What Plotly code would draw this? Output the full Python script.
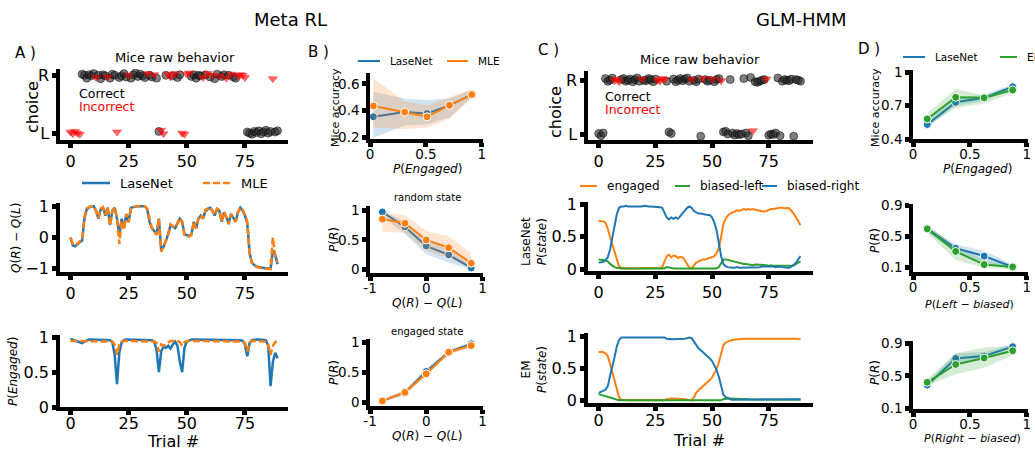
import plotly.graph_objects as go

W, H = 1035, 450
def fx(p): return p / W
def fy(p): return 1 - p / H

BLUE = "#1f77b4"; ORANGE = "#ff7f0e"; GREEN = "#2ca02c"
BLUE_F = "rgba(31,119,180,0.2)"; ORANGE_F = "rgba(255,127,14,0.2)"; GREEN_F = "rgba(44,160,44,0.2)"
FONT = "DejaVu Sans"

trials = list(range(90))

# ---------------- Panel A (Meta RL) ----------------
a_choice = [0,0,0,0,0, 1,1,1,1,1, 1,1,1,1,1, 1,1,1,1,1, 0,1,1,1,1, 1,1,1,1,1, 1,1,1,1,1,
            1,1,1,0,0, 0,1,1,1,1, 1,1,1,0,0, 1,1,1,1,1, 1,1,1,1,1, 1,1,1,1,1, 1,1,1,1,1,
            1,1,1,1,1, 1,0,0,0,0, 0,0,0,0,0, 0,0,1,0,0]
a_correct = [0,0,0,0,0, 1,1,1,1,1, 1,0,1,1,1, 1,0,1,1,1, 0,1,1,1,1, 0,1,1,1,1, 1,1,1,0,1,
             1,0,1,1,0, 0,1,0,0,1, 0,1,1,0,0, 0,0,1,1,1, 1,1,0,1,0, 1,0,1,1,0, 1,1,0,1,0,
             1,1,0,0,0, 0,1,1,1,1, 1,1,1,1,1, 1,1,0,1,1]
a_jitter = [0.02,-0.01,0.03,0.0,-0.02, 0.03,0.01,-0.04,0.02,0.0, 0.04,-0.03,0.01,-0.05,0.02,
            0.0,-0.02,-0.04,0.03,0.01, 0.02,-0.03,0.0,0.04,-0.02, 0.01,-0.04,0.02,0.05,-0.01,
            0.03,0.0,-0.03,0.04,0.01, -0.02,0.02,-0.04,0.03,0.05, -0.01,0.01,0.03,-0.02,0.0,
            0.04,-0.03,0.02,0.0,-0.02, 0.03,0.05,-0.01,0.02,-0.04, 0.01,0.0,-0.03,0.02,0.04,
            -0.02,0.01,-0.05,0.03,0.0, -0.01,0.02,-0.04,0.01,0.03, -0.02,-0.04,0.0,0.02,0.01,
            -0.03,0.02,0.0,-0.02,0.03, 0.01,0.04,-0.01,0.02,0.05, 0.0,0.03,-0.05,0.02,0.04]

a_q_lasenet = [0.0,-0.25,-0.28,-0.2,-0.15,-0.1,0.6,0.9,0.95,1.0,
               1.0,0.85,0.6,0.9,0.95,0.7,0.95,0.4,0.85,0.95,
               0.6,0.05,0.6,0.3,0.75,0.5,0.95,0.97,1.0,1.0,
               1.0,1.0,1.0,0.9,0.5,0.3,0.2,0.1,0.6,-0.4,
               -0.3,-0.1,0.1,0.4,0.35,0.3,0.45,0.6,0.5,0.1,
               0.08,0.05,0.1,0.5,0.3,0.6,0.7,0.6,0.85,0.9,
               0.95,0.85,0.7,0.9,0.85,0.5,0.8,0.65,0.45,0.75,
               0.6,0.5,0.8,0.95,0.85,0.7,0.45,-0.5,-0.8,-0.88,
               -0.92,-0.95,-0.96,-0.97,-0.98,-1.0,-1.0,-0.4,-0.55,-0.85]
a_q_mle = [0.0,-0.2,-0.25,-0.2,-0.12,-0.08,0.65,0.92,0.97,1.0,
           1.0,0.85,0.62,0.92,0.97,0.72,0.97,0.38,0.85,0.97,
           0.6,-0.2,0.55,0.25,0.75,0.48,0.95,0.98,1.0,1.0,
           1.0,1.0,1.0,0.92,0.55,0.3,0.2,0.08,0.6,-0.45,
           -0.32,-0.1,0.1,0.42,0.35,0.3,0.45,0.62,0.5,0.08,
           0.05,0.03,0.08,0.5,0.28,0.62,0.72,0.6,0.88,0.92,
           0.97,0.85,0.72,0.92,0.88,0.5,0.82,0.65,0.42,0.75,
           0.62,0.5,0.82,0.95,0.88,0.72,0.5,-0.5,-0.82,-0.9,
           -0.94,-0.96,-0.97,-0.98,-0.99,-1.0,-1.0,0.0,-0.6,-0.78]

a_eng_lasenet = [0.98,0.97,0.96,0.95,0.93,0.92,0.94,0.96,0.97,0.97,
                 0.97,0.97,0.97,0.97,0.97,0.97,0.97,0.96,0.93,0.75,
                 0.33,0.78,0.93,0.96,0.97,0.97,0.97,0.97,0.97,0.97,
                 0.97,0.97,0.97,0.97,0.97,0.96,0.94,0.82,0.5,0.8,
                 0.87,0.85,0.88,0.84,0.9,0.94,0.88,0.65,0.5,0.85,
                 0.94,0.96,0.97,0.97,0.97,0.97,0.97,0.97,0.97,0.97,
                 0.97,0.97,0.97,0.97,0.97,0.97,0.97,0.97,0.97,0.97,
                 0.97,0.97,0.97,0.96,0.95,0.9,0.73,0.92,0.96,0.97,
                 0.97,0.97,0.97,0.97,0.96,0.88,0.3,0.65,0.78,0.7]
a_eng_mle = [0.95,0.95,0.95,0.95,0.95,0.95,0.95,0.95,0.95,0.95,
             0.95,0.95,0.95,0.95,0.95,0.95,0.95,0.95,0.94,0.9,
             0.75,0.9,0.94,0.95,0.95,0.95,0.95,0.95,0.95,0.95,
             0.95,0.95,0.95,0.95,0.95,0.95,0.94,0.92,0.8,0.9,
             0.88,0.9,0.93,0.95,0.95,0.95,0.95,0.93,0.88,0.93,
             0.95,0.95,0.95,0.95,0.95,0.95,0.95,0.95,0.95,0.95,
             0.95,0.95,0.95,0.95,0.95,0.95,0.95,0.95,0.95,0.95,
             0.95,0.95,0.95,0.95,0.94,0.92,0.8,0.93,0.95,0.95,
             0.95,0.95,0.95,0.95,0.94,0.9,0.75,0.88,0.93,0.95]

# ---------------- Panel B ----------------
b_x_eng = [0.03, 0.31, 0.51, 0.71, 0.91]
b1_lasenet = [0.355, 0.39, 0.38, 0.44, 0.52]
b1_lasenet_lo = [0.2, 0.29, 0.3, 0.35, 0.5]
b1_lasenet_hi = [0.54, 0.49, 0.48, 0.49, 0.555]
b1_mle = [0.435, 0.39, 0.355, 0.44, 0.52]
b1_mle_lo = [0.275, 0.265, 0.275, 0.34, 0.49]
b1_mle_hi = [0.64, 0.47, 0.44, 0.5, 0.56]

b_x_q = [-0.78, -0.38, 0.0, 0.4, 0.8]
b2_lasenet = [0.97, 0.72, 0.4, 0.25, 0.03]
b2_lasenet_lo = [0.9, 0.6, 0.26, 0.12, 0.0]
b2_lasenet_hi = [1.0, 0.8, 0.5, 0.35, 0.08]
b2_mle = [0.85, 0.78, 0.5, 0.37, 0.11]
b2_mle_lo = [0.64, 0.62, 0.32, 0.2, 0.02]
b2_mle_hi = [0.95, 0.92, 0.65, 0.56, 0.28]

b3_lasenet = [0.03, 0.17, 0.52, 0.84, 0.98]
b3_lasenet_lo = [0.01, 0.13, 0.47, 0.8, 0.96]
b3_lasenet_hi = [0.05, 0.21, 0.57, 0.88, 1.0]
b3_mle = [0.03, 0.17, 0.48, 0.84, 0.95]
b3_mle_lo = [0.01, 0.13, 0.43, 0.8, 0.92]
b3_mle_hi = [0.05, 0.21, 0.53, 0.88, 0.98]

# ---------------- Panel C (GLM-HMM) ----------------
c_choice = [0,0,0,1,1, 1,1,1,1,1, 1,1,1,1,1, 1,1,1,1,1, 1,1,1,1,1, 1,1,1,1,1,
            1,0,0,1,1, 1,1,1,1,1, 1,1,1,1,1, 0,1,1,1,1, 1,1,1,1,1, 0,0,0,1,0,
            0,0,0,0,1, 0,0,1,0,1, 1,1,1,1,1, 0,0,0,0,1, 0,1,1,1,1, 1,0,1,1,1]
c_correct = [1,1,1,1,1, 1,1,0,0,0, 1,1,1,1,1, 1,1,1,1,0, 1,1,1,1,1, 1,0,0,0,0,
             1,1,1,1,1, 1,1,1,1,1, 1,0,1,1,1, 1,0,1,1,1, 0,1,1,1,0, 1,1,1,1,1,
             1,1,1,1,1, 1,1,1,0,1, 1,1,1,1,0, 1,1,1,1,1, 1,1,1,1,1, 1,1,1,1,1]
c_jitter = [0.01,-0.03,0.02,0.03,-0.02, 0.0,0.04,-0.01,0.02,-0.03, 0.01,0.03,-0.02,0.0,0.02,
            -0.03,0.01,0.04,-0.02,0.02, 0.0,-0.01,0.03,0.01,-0.03, 0.02,0.0,-0.02,0.03,0.01,
            -0.02,0.04,0.01,0.02,-0.03, 0.0,0.03,-0.01,0.02,0.04, -0.02,0.01,0.0,-0.03,0.02,
            -0.04,0.03,0.01,-0.02,0.0, 0.02,-0.03,0.01,0.03,-0.01, 0.04,0.05,0.0,0.01,0.02,
            -0.02,0.01,-0.01,0.0,0.03, 0.02,-0.03,0.05,0.06,-0.03, -0.04,-0.02,0.0,0.01,0.02,
            -0.02,0.0,-0.01,0.02,0.04, -0.03,-0.02,0.01,0.0,-0.01, 0.02,-0.04,0.01,0.0,-0.02]

c_lasenet_engaged = [0.75,0.75,0.74,0.72,0.63,0.5,0.38,0.26,0.12,0.04,
                     0.02,0.01,0.01,0.01,0.01,0.01,0.02,0.01,0.01,0.01,
                     0.01,0.01,0.02,0.01,0.01,0.01,0.01,0.02,0.03,0.12,
                     0.2,0.22,0.18,0.21,0.2,0.17,0.19,0.18,0.14,0.08,
                     0.02,0.01,0.06,0.1,0.12,0.14,0.15,0.15,0.16,0.17,
                     0.18,0.2,0.25,0.33,0.5,0.7,0.78,0.83,0.86,0.88,
                     0.9,0.91,0.9,0.92,0.93,0.92,0.93,0.92,0.93,0.92,
                     0.91,0.9,0.9,0.89,0.9,0.92,0.93,0.93,0.94,0.94,
                     0.95,0.95,0.94,0.95,0.94,0.9,0.86,0.8,0.74,0.68]
c_lasenet_left = [0.15,0.15,0.14,0.13,0.12,0.08,0.05,0.03,0.02,0.01,
                  0.01,0.01,0.01,0.01,0.01,0.01,0.01,0.01,0.01,0.01,
                  0.01,0.01,0.01,0.01,0.01,0.01,0.01,0.01,0.01,0.01,
                  0.03,0.02,0.01,0.01,0.01,0.01,0.01,0.01,0.01,0.01,
                  0.01,0.01,0.01,0.01,0.01,0.01,0.01,0.01,0.01,0.01,
                  0.01,0.01,0.01,0.03,0.08,0.15,0.15,0.14,0.13,0.12,
                  0.12,0.1,0.1,0.09,0.08,0.08,0.07,0.07,0.06,0.07,
                  0.07,0.06,0.06,0.06,0.06,0.05,0.06,0.05,0.05,0.05,
                  0.04,0.04,0.04,0.04,0.04,0.05,0.06,0.08,0.1,0.12]
c_lasenet_right = [0.1,0.1,0.11,0.14,0.18,0.3,0.5,0.68,0.85,0.95,
                   0.97,0.97,0.98,0.97,0.97,0.97,0.96,0.97,0.97,0.97,
                   0.98,0.97,0.97,0.97,0.97,0.97,0.97,0.96,0.95,0.88,
                   0.8,0.77,0.8,0.78,0.8,0.78,0.82,0.86,0.9,0.95,
                   0.97,0.95,0.9,0.88,0.86,0.86,0.85,0.85,0.84,0.84,
                   0.8,0.72,0.6,0.4,0.2,0.08,0.04,0.03,0.02,0.02,
                   0.02,0.03,0.02,0.02,0.02,0.03,0.02,0.02,0.02,0.02,
                   0.03,0.03,0.04,0.04,0.04,0.05,0.05,0.04,0.03,0.04,
                   0.04,0.03,0.02,0.02,0.02,0.04,0.06,0.1,0.15,0.2]

c_em_engaged = [0.76,0.76,0.76,0.74,0.7,0.58,0.45,0.3,0.15,0.05,
                0.01,0.005,0.005,0.005,0.005,0.005,0.005,0.005,0.005,0.005,
                0.005,0.005,0.005,0.005,0.005,0.005,0.005,0.005,0.005,0.005,
                0.02,0.03,0.03,0.03,0.03,0.03,0.03,0.03,0.02,0.01,
                0.0,0.0,0.05,0.12,0.16,0.19,0.22,0.26,0.29,0.32,
                0.36,0.42,0.5,0.6,0.75,0.87,0.91,0.93,0.94,0.95,
                0.96,0.96,0.96,0.97,0.97,0.97,0.97,0.97,0.97,0.98,
                0.98,0.98,0.98,0.98,0.98,0.98,0.98,0.98,0.98,0.98,
                0.98,0.98,0.98,0.98,0.98,0.98,0.98,0.97,0.97,0.96]
c_em_left = [0.1,0.09,0.08,0.07,0.06,0.04,0.03,0.02,0.01,0.005,
             0.005,0.005,0.005,0.005,0.005,0.005,0.005,0.005,0.005,0.005,
             0.005,0.005,0.005,0.005,0.005,0.005,0.005,0.005,0.005,0.005,
             0.005,0.005,0.005,0.005,0.005,0.005,0.005,0.005,0.005,0.005,
             0.005,0.005,0.005,0.005,0.005,0.005,0.005,0.005,0.005,0.005,
             0.005,0.005,0.005,0.005,0.005,0.02,0.03,0.03,0.03,0.03,
             0.03,0.025,0.02,0.02,0.02,0.02,0.02,0.015,0.015,0.015,
             0.015,0.015,0.015,0.01,0.01,0.01,0.01,0.01,0.01,0.01,
             0.01,0.01,0.01,0.01,0.01,0.01,0.01,0.01,0.01,0.01]
c_em_right = [0.12,0.13,0.15,0.17,0.22,0.38,0.52,0.68,0.85,0.95,
              0.99,0.99,0.99,0.99,0.99,0.99,0.99,0.99,0.99,0.99,
              0.99,0.99,0.99,0.99,0.99,0.99,0.99,0.99,0.99,0.99,
              0.97,0.96,0.96,0.96,0.96,0.96,0.96,0.96,0.97,0.98,
              0.99,0.98,0.93,0.86,0.82,0.79,0.76,0.72,0.69,0.66,
              0.62,0.56,0.48,0.37,0.22,0.09,0.05,0.03,0.02,0.01,
              0.01,0.01,0.01,0.01,0.01,0.01,0.01,0.01,0.01,0.01,
              0.01,0.01,0.01,0.01,0.01,0.01,0.01,0.01,0.01,0.01,
              0.01,0.01,0.01,0.01,0.01,0.01,0.01,0.015,0.02,0.02]

# ---------------- Panel D ----------------
d_x = [0.125, 0.375, 0.625, 0.875]
d1_lasenet = [0.53, 0.73, 0.77, 0.87]
d1_lasenet_lo = [0.5, 0.7, 0.74, 0.85]
d1_lasenet_hi = [0.57, 0.77, 0.8, 0.89]
d1_em = [0.58, 0.775, 0.77, 0.84]
d1_em_lo = [0.52, 0.68, 0.72, 0.81]
d1_em_hi = [0.63, 0.85, 0.79, 0.88]
d2_lasenet = [0.6, 0.35, 0.25, 0.11]
d2_lasenet_lo = [0.56, 0.3, 0.16, 0.08]
d2_lasenet_hi = [0.63, 0.4, 0.32, 0.14]
d2_em = [0.6, 0.31, 0.14, 0.11]
d2_em_lo = [0.55, 0.2, 0.1, 0.08]
d2_em_hi = [0.65, 0.38, 0.2, 0.13]
d3_lasenet = [0.385, 0.715, 0.745, 0.86]
d3_lasenet_lo = [0.36, 0.66, 0.7, 0.83]
d3_lasenet_hi = [0.42, 0.78, 0.79, 0.89]
d3_em = [0.42, 0.64, 0.72, 0.81]
d3_em_lo = [0.38, 0.52, 0.6, 0.75]
d3_em_hi = [0.46, 0.78, 0.85, 0.87]

trial_ticks = [0, 25, 50, 75]

# ---------------- axes layout (pixel boxes) ----------------
AX = {
    1: (60, 288, 69, 140, [-4.5, 93.5], [-0.12, 1.12], trial_ticks, None, [0, 1], ["L", "R"], 16),
    2: (60, 288, 203, 272, [-4.5, 93.5], [-1.1, 1.1], trial_ticks, None, [-1, 0, 1], ["\u22121", "0", "1"], 16),
    3: (60, 288, 335, 407, [-4.5, 93.5], [0, 1.035], trial_ticks, None, [0, 0.5, 1], ["0", "0.5", "1"], 16),
    4: (370, 483, 73, 139, [0, 1.01], [0.19, 0.68], [0, 0.5, 1], ["0", "0.5", "1"], [0.2, 0.4, 0.6], ["0.2", "0.4", "0.6"], 13.5),
    5: (370, 483, 206, 273, [-1, 1.01], [-0.055, 1.07], [-1, 0, 1], ["-1", "0", "1"], [0, 0.5, 1], ["0", "0.5", "1"], 13.5),
    6: (370, 483, 339, 406, [-1, 1.01], [-0.055, 1.06], [-1, 0, 1], ["-1", "0", "1"], [0, 0.5, 1], ["0", "0.5", "1"], 13.5),
    7: (588, 813, 71, 140, [-4.7, 94.5], [-0.11, 1.17], trial_ticks, None, [0, 1], ["L", "R"], 16),
    8: (588, 813, 202, 271, [-4.7, 94.5], [-0.03, 1.04], trial_ticks, None, [0, 0.5, 1], ["0", "0.5", "1"], 16),
    9: (588, 813, 333, 403, [-4.7, 94.5], [-0.04, 1.06], trial_ticks, None, [0, 0.5, 1], ["0", "0.5", "1"], 16),
    10: (913, 1028, 70, 139, [0, 1.01], [0.4, 1.02], [0, 0.5, 1], ["0", "0.5", "1"], [0.4, 0.7, 1], ["0.4", "0.7", "1"], 13.5),
    11: (913, 1028, 204, 272, [0, 1.01], [0.045, 0.92], [0, 0.5, 1], ["0", "0.5", "1"], [0.1, 0.5, 0.9], ["0.1", "0.5", "0.9"], 13.5),
    12: (913, 1028, 341, 409, [0, 1.01], [0.09, 0.93], [0, 0.5, 1], ["0", "0.5", "1"], [0.1, 0.5, 0.9], ["0.1", "0.5", "0.9"], 13.5),
}
STANDOFF = {4: -4, 5: -4, 6: -4, 10: -4, 11: -4, 12: -4, 3: -5, 9: -4}

layout_axes = {}
for i, (xl, xr, yt, yb, xrg, yrg, xtv, xtt, ytv, ytt, fs) in AX.items():
    xs = "" if i == 1 else str(i)
    common = dict(showgrid=False, zeroline=False, showline=True, linecolor="black", linewidth=3.5,
                  ticks="outside", ticklen=4, tickwidth=5, tickcolor="black", automargin=False,
                  tickfont=dict(family=FONT, size=fs, color="black"), fixedrange=True)
    layout_axes["xaxis" + xs] = dict(domain=[fx(xl), fx(xr)], range=xrg, anchor="y" + xs,
                                     tickvals=xtv, ticktext=xtt if xtt else [str(v) for v in xtv],
                                     ticklabelstandoff=STANDOFF.get(i, 0), **common)
    layout_axes["yaxis" + xs] = dict(domain=[fy(yb), fy(yt)], range=yrg, anchor="x" + xs,
                                     tickvals=ytv, ticktext=ytt, **common)

def ax(i):
    return ("x", "y") if i == 1 else ("x" + str(i), "y" + str(i))

def add(tr, i):
    xa, ya = ax(i)
    tr.update(xaxis=xa, yaxis=ya, showlegend=False, hoverinfo="skip")
    fig.add_trace(tr)

fig = go.Figure()

def raw(i, choice, correct, jitter):
    xc = [t for t in trials if correct[t] == 1]
    yc = [choice[t] + jitter[t] for t in trials if correct[t] == 1]
    xi = [t for t in trials if correct[t] == 0]
    yi = [choice[t] + jitter[t] for t in trials if correct[t] == 0]
    add(go.Scatter(x=xc, y=yc, mode="markers",
                   marker=dict(symbol="circle", size=8, color="rgba(40,40,40,0.6)",
                               line=dict(width=0.8, color="rgba(0,0,0,0.6)"))), i)
    add(go.Scatter(x=xi, y=yi, mode="markers",
                   marker=dict(symbol="triangle-down", size=8, color="rgba(255,0,0,0.6)",
                               line=dict(width=0.6, color="rgba(255,0,0,0.6)"))), i)

raw(1, a_choice, a_correct, a_jitter)
raw(7, c_choice, c_correct, c_jitter)

add(go.Scatter(x=trials, y=a_q_lasenet, mode="lines", line=dict(color=BLUE, width=2.5)), 2)
add(go.Scatter(x=trials, y=a_q_mle, mode="lines", line=dict(color=ORANGE, width=2.5, dash="7px,3px")), 2)
add(go.Scatter(x=trials, y=a_eng_lasenet, mode="lines", line=dict(color=BLUE, width=2.5)), 3)
add(go.Scatter(x=trials, y=a_eng_mle, mode="lines", line=dict(color=ORANGE, width=2.5, dash="7px,3px")), 3)

def band_line(i, xs, y, lo, hi, color, fill):
    add(go.Scatter(x=xs + xs[::-1], y=hi + lo[::-1], fill="toself", fillcolor=fill,
                   mode="lines", line=dict(width=0)), i)
    add(go.Scatter(x=xs, y=y, mode="lines+markers", line=dict(color=color, width=2),
                   marker=dict(size=8, color=color, line=dict(width=1, color="white"))), i)

band_line(4, b_x_eng, b1_lasenet, b1_lasenet_lo, b1_lasenet_hi, BLUE, BLUE_F)
band_line(4, b_x_eng, b1_mle, b1_mle_lo, b1_mle_hi, ORANGE, ORANGE_F)
band_line(5, b_x_q, b2_lasenet, b2_lasenet_lo, b2_lasenet_hi, BLUE, BLUE_F)
band_line(5, b_x_q, b2_mle, b2_mle_lo, b2_mle_hi, ORANGE, ORANGE_F)
band_line(6, b_x_q, b3_lasenet, b3_lasenet_lo, b3_lasenet_hi, BLUE, BLUE_F)
band_line(6, b_x_q, b3_mle, b3_mle_lo, b3_mle_hi, ORANGE, ORANGE_F)

band_line(10, d_x, d1_lasenet, d1_lasenet_lo, d1_lasenet_hi, BLUE, BLUE_F)
band_line(10, d_x, d1_em, d1_em_lo, d1_em_hi, GREEN, GREEN_F)
band_line(11, d_x, d2_lasenet, d2_lasenet_lo, d2_lasenet_hi, BLUE, BLUE_F)
band_line(11, d_x, d2_em, d2_em_lo, d2_em_hi, GREEN, GREEN_F)
band_line(12, d_x, d3_lasenet, d3_lasenet_lo, d3_lasenet_hi, BLUE, BLUE_F)
band_line(12, d_x, d3_em, d3_em_lo, d3_em_hi, GREEN, GREEN_F)

for i, (eng, left, right) in {8: (c_lasenet_engaged, c_lasenet_left, c_lasenet_right),
                              9: (c_em_engaged, c_em_left, c_em_right)}.items():
    add(go.Scatter(x=trials, y=eng, mode="lines", line=dict(color=ORANGE, width=2)), i)
    add(go.Scatter(x=trials, y=left, mode="lines", line=dict(color=GREEN, width=2)), i)
    add(go.Scatter(x=trials, y=right, mode="lines", line=dict(color=BLUE, width=2)), i)

# ---------------- text ----------------
anns = []
def txt(s, x, y, size, color="black", angle=0, xanchor="center", yanchor="middle"):
    anns.append(dict(text=s, x=fx(x), y=fy(y), xref="paper", yref="paper", showarrow=False,
                     xanchor=xanchor, yanchor=yanchor, textangle=angle,
                     font=dict(family=FONT, size=size, color=color)))

txt("Meta RL", 290, 19, 18)
txt("GLM-HMM", 801, 19, 18)
txt("A )", 13, 53, 15, xanchor="left")
txt("B )", 306, 52, 15, xanchor="left")
txt("C )", 536, 50, 15, xanchor="left")
txt("D )", 856, 49, 15, xanchor="left")

txt("Mice raw behavior", 175, 57, 13)
txt("Mice raw behavior", 700, 60, 13)
txt("Correct", 77, 93, 12.5, xanchor="left")
txt("Incorrect", 77, 106.5, 12.5, color="red", xanchor="left")
txt("Correct", 603, 96, 12.5, xanchor="left")
txt("Incorrect", 603, 109.5, 12.5, color="red", xanchor="left")

txt("choice", 33, 107, 16, angle=-90)
txt("choice", 555, 112, 16, angle=-90)
txt("<i>Q</i>(<i>R</i>) \u2212 <i>Q</i>(<i>L</i>)", 16, 238, 12, angle=-90)
txt("<i>P</i>(<i>Engaged</i>)", 13, 372, 12, angle=-90)
txt("Trial #", 173, 441, 16)
txt("Trial #", 699, 440.5, 16)

txt("Mice accuracy", 335, 108, 11, angle=-90)
txt("<i>P</i>(<i>R</i>)", 334, 240, 12, angle=-90)
txt("<i>P</i>(<i>R</i>)", 334, 373, 12, angle=-90)
txt("<i>P</i>(<i>Engaged</i>)", 427, 169, 12)
txt("<i>Q</i>(<i>R</i>) \u2212 <i>Q</i>(<i>L</i>)", 427, 303, 12)
txt("<i>Q</i>(<i>R</i>) \u2212 <i>Q</i>(<i>L</i>)", 427, 436, 12)
txt("random state", 427, 197, 10)
txt("engaged state", 427, 331, 10)

txt("LaseNet<br><i>P</i>(<i>state</i>)", 534, 242, 12, angle=-90)
txt("EM<br><i>P</i>(<i>state</i>)", 534, 370, 12, angle=-90)

txt("Mice accuracy", 875, 108, 11, angle=-90)
txt("<i>P</i>(<i>R</i>)", 875, 241, 12, angle=-90)
txt("<i>P</i>(<i>R</i>)", 875, 373, 12, angle=-90)
txt("<i>P</i>(<i>Engaged</i>)", 977, 169, 12)
txt("<i>P</i>(<i>Left</i> \u2212 <i>biased</i>)", 969, 304, 11)
txt("<i>P</i>(<i>Right</i> \u2212 <i>biased</i>)", 972, 438, 11)

shapes = []
def key(x0, x1, y, color, label, size, dash="solid", width=2.5, gap=8):
    shapes.append(dict(type="line", xref="paper", yref="paper", x0=fx(x0), x1=fx(x1), y0=fy(y), y1=fy(y),
                       line=dict(color=color, width=width, dash=dash)))
    txt(label, x1 + gap, y, size, xanchor="left")

key(82, 110, 183, BLUE, "LaseNet", 13)
key(203, 231, 183, ORANGE, "MLE", 13, dash="7px,3px")
key(358, 380, 61, BLUE, "LaseNet", 10.5, width=2)
key(447, 468, 61, ORANGE, "MLE", 10.5, width=2)
key(580, 597, 186, ORANGE, "engaged", 12, width=2)
key(675, 690, 186, GREEN, "biased-left", 12, width=2)
key(762, 777, 186, BLUE, "biased-right", 12, width=2)
key(903, 925, 57, BLUE, "LaseNet", 10.5, width=2)
key(1000, 1017, 57, GREEN, "EM", 10.5, width=2)

fig.update_layout(width=W, height=H, margin=dict(l=0, r=0, t=0, b=0),
                  paper_bgcolor="white", plot_bgcolor="white", showlegend=False,
                  annotations=anns, shapes=shapes, **layout_axes)

fig.write_html("out.html")
